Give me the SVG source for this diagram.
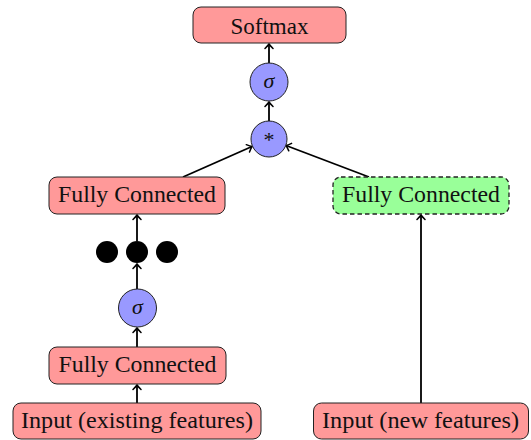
<svg xmlns="http://www.w3.org/2000/svg" width="531" height="440" viewBox="0 0 531 440">
  <defs>
    <marker id="tip" viewBox="-6 -5 8 10" markerWidth="8" markerHeight="10" refX="0" refY="0" orient="auto" markerUnits="userSpaceOnUse">
      <path d="M -4.5 -4 Q -1.5 -1 0 0 Q -1.5 1 -4.5 4" fill="none" stroke="#000" stroke-width="1.5" stroke-linecap="round"/>
    </marker>
    <style>
      .box { fill: #ff9999; stroke: #222; stroke-width: 1; }
      .newbox { fill: #99ff99; stroke: #222; stroke-width: 1.3; stroke-dasharray: 4.5 3; }
      .op { fill: #9999ff; stroke: #222; stroke-width: 1; }
      .dot { fill: #000; }
      .lbl { font-family: "Liberation Serif", "DejaVu Serif", serif; font-size: 23.5px; fill: #111; text-anchor: middle; }
      .sym { font-family: "Liberation Serif", "DejaVu Serif", serif; font-size: 22px; fill: #111; text-anchor: middle; }
      .edge { fill: none; stroke: #000; stroke-width: 1.8; marker-end: url(#tip); }
    </style>
  </defs>

  <!-- connectors -->
  <g id="edges">
    <line class="edge" x1="269" y1="63" x2="269" y2="44"/>
    <line class="edge" x1="269" y1="121" x2="269" y2="102"/>
    <line class="edge" x1="183" y1="177" x2="252" y2="146.5"/>
    <line class="edge" x1="369" y1="177" x2="286" y2="145.5"/>
    <line class="edge" x1="137" y1="241" x2="137" y2="215"/>
    <line class="edge" x1="137" y1="289" x2="137" y2="264"/>
    <line class="edge" x1="137" y1="347" x2="137" y2="328"/>
    <line class="edge" x1="137" y1="403" x2="137" y2="385"/>
    <line class="edge" x1="421" y1="403" x2="421" y2="215"/>
  </g>

  <g id="softmax">
    <rect class="box" x="193" y="7" width="153" height="36" rx="8"/>
    <text class="lbl" x="269.5" y="33.5" textLength="78" lengthAdjust="spacingAndGlyphs">Softmax</text>
  </g>

  <g id="sigma-top">
    <circle class="op" cx="269" cy="82" r="19"/>
    <text class="sym" x="269" y="88" font-style="italic">σ</text>
  </g>

  <g id="product">
    <circle class="op" cx="269" cy="139" r="18"/>
    <text class="sym" x="269" y="147" font-size="17">*</text>
  </g>

  <g id="fc-upper">
    <rect class="box" x="49" y="177" width="176" height="37" rx="8"/>
    <text class="lbl" x="137" y="202" textLength="158" lengthAdjust="spacingAndGlyphs">Fully Connected</text>
  </g>

  <g id="fc-new">
    <rect class="newbox" x="333" y="177" width="176" height="37" rx="8"/>
    <text class="lbl" x="421" y="202" textLength="158" lengthAdjust="spacingAndGlyphs">Fully Connected</text>
  </g>

  <g id="ellipsis">
    <circle class="dot" cx="107" cy="252" r="11"/>
    <circle class="dot" cx="137" cy="252" r="11"/>
    <circle class="dot" cx="167" cy="252" r="11"/>
  </g>

  <g id="sigma-lower">
    <circle class="op" cx="137.5" cy="308" r="19"/>
    <text class="sym" x="137.5" y="314" font-style="italic">σ</text>
  </g>

  <g id="fc-lower">
    <rect class="box" x="49" y="347" width="177" height="37" rx="8"/>
    <text class="lbl" x="137.5" y="372" textLength="158" lengthAdjust="spacingAndGlyphs">Fully Connected</text>
  </g>

  <g id="input-existing">
    <rect class="box" x="13" y="403" width="248" height="36" rx="8"/>
    <text class="lbl" x="137" y="428" textLength="232" lengthAdjust="spacingAndGlyphs">Input (existing features)</text>
  </g>

  <g id="input-new">
    <rect class="box" x="313.5" y="403" width="215" height="36" rx="8"/>
    <text class="lbl" x="420.5" y="428" textLength="197" lengthAdjust="spacingAndGlyphs">Input (new features)</text>
  </g>
</svg>
